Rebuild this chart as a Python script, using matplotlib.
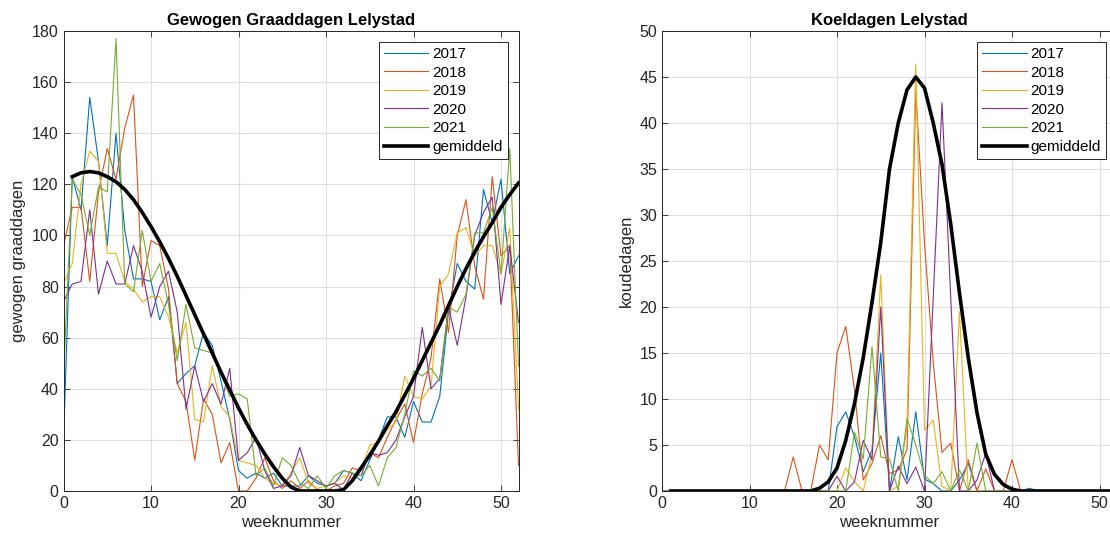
import matplotlib
matplotlib.use("Agg")
import matplotlib.pyplot as plt
import numpy as np

plt.rcParams['font.family'] = ['Liberation Sans', 'DejaVu Sans']

years = ["2017", "2018", "2019", "2020", "2021"]
colors = ["#0072BD", "#D95319", "#EDB120", "#7E2F8E", "#77AC30"]

weeks_year = list(range(0, 53))
weeks_avg = list(range(1, 53))

# ---- Gewogen graaddagen (weeks 0..52) ----
gd_2017 = [20, 123, 110, 154, 129, 96, 140, 102, 83, 83, 82, 67, 76, 42, 46, 49, 62, 57, 43, 28,
           8, 5, 7, 5, 7, 2, 2, 2, 6, 3, 2, 3, 8, 7, 4, 12, 20, 29, 29, 21,
           35, 27, 27, 37, 70, 89, 82, 79, 118, 105, 122, 85, 92]
gd_2018 = [96, 111, 111, 82, 117, 134, 122, 142, 155, 80, 98, 96, 79, 42, 35, 12, 36, 30, 11, 19,
           0, 0, 5, 13, 4, 1, 4, 1, 4, 0.5, 0, 2, 3, 9, 8, 15, 13, 21, 28, 34,
           19, 38, 52, 83, 62, 100, 114, 88, 75, 123, 92, 96, 10]
gd_2019 = [81, 89, 120, 133, 129, 93, 93, 82, 79, 74, 76, 76, 68, 54, 66, 28, 27, 49, 33, 29,
           12, 11, 10, 5, 3, 2, 7, 13, 3, 1, 2, 3, 6, 5, 8, 18, 19, 24, 27, 45,
           37, 36, 41, 80, 85, 101, 103, 92, 96, 96, 85, 103, 32]
gd_2020 = [74, 81, 82, 110, 77, 90, 81, 81, 96, 86, 68, 80, 86, 70, 32, 49, 35, 42, 34, 48,
           12, 15, 21, 8, 1, 2, 6, 17, 6, 4, 2, 3, 0.5, 7, 6, 15, 14, 15, 20, 29,
           37, 64, 40, 44, 72, 57, 76, 100, 109, 115, 73, 96, 66]
gd_2021 = [45, 122, 116, 100, 119, 117, 177, 81, 78, 102, 82, 89, 73, 51, 73, 56, 55, 54, 46, 37,
           38, 36, 6, 9, 2, 13, 10, 3, 1, 6, 1, 6, 8, 7, 6, 10, 2, 13, 17, 30,
           47, 45, 48, 43, 72, 70, 77, 101, 101, 111, 85, 134, 49]
gd_avg = [123, 124.5, 125, 124.5, 123, 121, 118, 114, 109, 103.5, 97.5, 91, 84, 76.5, 69, 61.5,
          54, 46.5, 39.5, 32.5, 26, 20, 14.5, 9.5, 5, 1.5, 0, 0, 0, 0, 0, 0.5,
          4, 9, 14, 19.5, 25.5, 31, 37.5, 44, 51, 58, 65, 72.5, 80, 87, 93.5, 99.5,
          105, 111, 116, 120.5]

# ---- Koeldagen (weeks 0..52) ----
kd_2017 = [0]*20 + [7, 8.6, 5.9, 2.1, 4.5, 15, 0, 5.9, 1.2, 8.6, 1.3, 0.8, 0, 0, 1.2, 3, 0, 0,
                    0, 0, 0, 0, 0.3, 0, 0, 0, 0, 0, 0, 0, 0, 0, 0]
kd_2018 = [0]*15 + [3.7, 0, 0, 5, 3.4, 15, 17.9, 11, 1.2, 3, 6, 1.9, 2.3, 4.5, 43.5, 27, 14,
                    4.2, 5.2, 0, 3.4, 0, 2.4, 0, 0, 3.4, 0, 0, 0, 0, 0, 0, 0, 0, 0, 0, 0, 0]
kd_2019 = [0]*21 + [2.5, 1, 0, 4, 23.5, 0, 0.5, 7, 46.4, 6.6, 7.7, 0.5, 0, 19.5, 0,
                    0, 0, 0, 0, 0, 0, 0, 0, 0, 0, 0, 0, 0, 0, 0, 0, 0]
kd_2020 = [0]*20 + [1.6, 0, 1, 5.5, 3.4, 20, 0, 2.7, 0.8, 2.6, 0, 21, 42.2, 21, 0, 0, 1.2, 4.1,
                    0, 0, 0, 0, 0, 0, 0, 0, 0, 0, 0, 0, 0, 0, 0]
kd_2021 = [0]*22 + [6.4, 3.5, 15.7, 3.7, 3.5, 0, 7.9, 5, 1.7, 0.8, 2.1, 0, 2.3, 0, 5.2, 0,
                    0, 0, 0, 0, 0, 0, 0, 0, 0, 0, 0, 0, 0, 0, 0]
kd_avg = [0]*17 + [0.3, 1.0, 2.5, 5.5, 9.5, 14.5, 20.5, 27, 35, 40, 43.6, 45, 43.8, 40, 35.5,
                   29, 21.5, 14.5, 8.5, 4, 1.8, 0.7, 0.2, 0, 0, 0, 0, 0, 0, 0, 0, 0, 0, 0, 0]

W, H = 1110, 541
fig = plt.figure(figsize=(W/100, H/100), dpi=100)
ax1 = fig.add_axes([63.5/W, 50/H, 455/W, 460/H])
ax2 = fig.add_axes([662/W, 50/H, 455/W, 460/H])

axcol = "#262626"


def style(ax, ymax, ystep, title, ylabel):
    ax.set_xlim(0, 52)
    ax.set_ylim(0, ymax)
    ax.set_xticks(np.arange(0, 51, 10))
    ax.set_yticks(np.arange(0, ymax + 0.1, ystep))
    ax.grid(True, color="#dfdfdf", linewidth=0.8)
    ax.set_axisbelow(True)
    ax.tick_params(direction="in", top=True, right=True, labelsize=11.5,
                   colors=axcol, length=4, width=0.6)
    for s in ax.spines.values():
        s.set_color(axcol)
        s.set_linewidth(0.7)
    ax.set_title(title, fontsize=12, fontweight="bold", pad=4)
    ax.set_xlabel("weeknummer", fontsize=12, color=axcol, labelpad=3)
    ax.set_ylabel(ylabel, fontsize=12, color=axcol, labelpad=4)
    leg = ax.legend(loc="upper right", fontsize=11, handlelength=2.9,
                    fancybox=False, edgecolor=axcol, framealpha=1,
                    borderaxespad=0.7, labelspacing=0.3, borderpad=0.35,
                    handletextpad=0.25)
    leg.get_frame().set_linewidth(0.7)


for vals, c, y in zip([gd_2017, gd_2018, gd_2019, gd_2020, gd_2021], colors, years):
    ax1.plot(weeks_year, vals, color=c, linewidth=0.8, label=y)
ax1.plot(weeks_avg, gd_avg, color="black", linewidth=2.6, label="gemiddeld")
style(ax1, 180, 20, "Gewogen Graaddagen Lelystad", "gewogen graaddagen")

for vals, c, y in zip([kd_2017, kd_2018, kd_2019, kd_2020, kd_2021], colors, years):
    ax2.plot(weeks_year, vals, color=c, linewidth=0.8, label=y)
ax2.plot(weeks_avg, kd_avg, color="black", linewidth=2.6, label="gemiddeld")
style(ax2, 50, 5, "Koeldagen Lelystad", "koudedagen")

fig.savefig("out.png", dpi=100)
